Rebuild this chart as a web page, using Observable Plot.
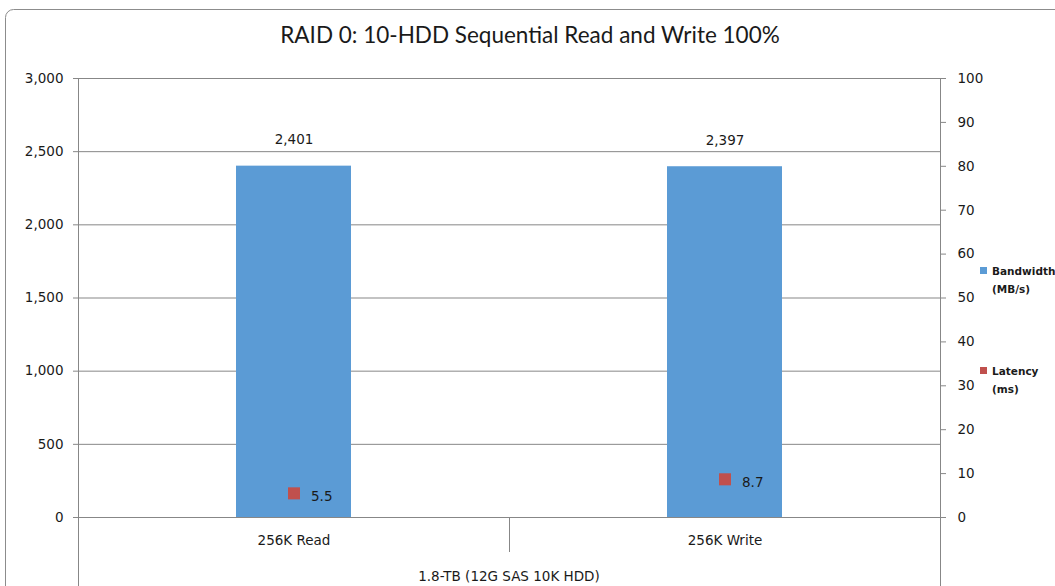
<!DOCTYPE html>
<html>
<head>
<meta charset="utf-8">
<script src="https://cdn.jsdelivr.net/npm/d3@7"></script>
<script src="https://cdn.jsdelivr.net/npm/@observablehq/plot@0.6"></script>
<style>
  html, body { margin: 0; padding: 0; background: #fff; }
  #chart svg { display: block; }
</style>
</head>
<body>
<div id="chart"></div>
<script>
const title = "RAID 0: 10-HDD Sequential Read and Write 100%";
const groupLabel = "1.8-TB (12G SAS 10K HDD)";
const categories = ["256K Read", "256K Write"];
const bandwidth = [2401, 2397];
const latency = [5.5, 8.7];
const leftTicks = [0, 500, 1000, 1500, 2000, 2500, 3000];
const rightTicks = [0, 10, 20, 30, 40, 50, 60, 70, 80, 90, 100];
const seriesNames = [["Bandwidth", "(MB/s)"], ["Latency", "(ms)"]];
const seriesColors = ["#5B9BD5", "#C0504D"];

const ratio = 3000 / 100; // secondary axis maps 0..100 onto 0..3000
const rows = categories.map((c, i) => ({cat: c, bw: bandwidth[i], lat: latency[i], latY: latency[i] * ratio}));

const W = 1055, H = 586;
const mL = 78, mR = 115, mT = 78, mB = 69;
const font = "'DejaVu Sans', Verdana, sans-serif";
const fmt = d3.format(",");

const plot = Plot.plot({
  width: W, height: H,
  marginLeft: mL, marginRight: mR, marginTop: mT, marginBottom: mB,
  style: {fontFamily: font, fontSize: "13px", background: "transparent", color: "#1a1a1a"},
  x: {domain: categories, paddingInner: 0.733, paddingOuter: 0.3665, label: null},
  y: {domain: [0, 3000], label: null},
  marks: [
    Plot.ruleY(leftTicks, {stroke: "#878787", strokeWidth: 1}),
    Plot.barY(rows, {x: "cat", y: "bw", fill: seriesColors[0]}),
    Plot.text(rows, {x: "cat", y: "bw", text: d => fmt(d.bw), dy: -26, fontSize: 13.5, fill: "#1a1a1a"}),
    Plot.dot(rows, {x: "cat", y: "latY", symbol: "square", r: 6.8, fill: seriesColors[1], stroke: "none"}),
    Plot.text(rows, {x: "cat", y: "latY", text: d => String(d.lat), dx: 17, dy: 3, textAnchor: "start", fontSize: 13.5, fill: "#1a1a1a"}),
    Plot.axisY(leftTicks, {anchor: "left", tickSize: 5, tickPadding: 10, tickFormat: d => fmt(d), stroke: "#878787", fill: "#1a1a1a", fontSize: 13.5, label: null}),
    Plot.axisY(rightTicks.map(t => t * ratio), {anchor: "right", tickSize: 5, tickPadding: 12, tickFormat: d => d3.format("d")(d / ratio), stroke: "#878787", fill: "#1a1a1a", fontSize: 13.5, label: null}),
    Plot.axisX({tickSize: 0, tickPadding: 18, fontSize: 13.5, fill: "#1a1a1a", label: null})
  ]
});

document.getElementById("chart").appendChild(plot);

const svg = d3.select(plot);
const xs = plot.scale("x");
const x0 = mL, x1 = W - mR, yBase = H - mB;
const centers = categories.map(c => xs.apply(c) + xs.bandwidth / 2);
const divider = (centers[0] + centers[1]) / 2;

// outer chart-area border
svg.insert("rect", ":first-child")
  .attr("x", 5.5).attr("y", 9.5).attr("width", 1200).attr("height", 800)
  .attr("rx", 8).attr("fill", "#fff").attr("stroke", "#8c8c8c").attr("stroke-width", 1);

const g = svg.append("g").attr("stroke", "#878787").attr("stroke-width", 1);
// vertical axis lines extending into category area
g.append("line").attr("x1", x0 + 0.5).attr("x2", x0 + 0.5).attr("y1", mT).attr("y2", H);
g.append("line").attr("x1", x1 + 0.5).attr("x2", x1 + 0.5).attr("y1", mT).attr("y2", H);
// category divider
g.append("line").attr("x1", Math.round(divider) + 0.5).attr("x2", Math.round(divider) + 0.5).attr("y1", yBase).attr("y2", yBase + 35);

// title
svg.append("text").attr("x", 530).attr("y", 43).attr("text-anchor", "middle")
  .attr("font-family", "Lato, 'Open Sans', sans-serif").attr("font-size", 22.5).attr("fill", "#1a1a1a")
  .text(title);

// group label
svg.append("text").attr("x", (x0 + x1) / 2).attr("y", 581).attr("text-anchor", "middle")
  .attr("font-family", font).attr("font-size", 13.5).attr("fill", "#1a1a1a")
  .text(groupLabel);

// legend
const legY = [271, 371];
seriesNames.forEach((lines, i) => {
  svg.append("rect").attr("x", 980).attr("y", legY[i] - 4).attr("width", 7).attr("height", 7).attr("fill", seriesColors[i]);
  const t = svg.append("text").attr("x", 992).attr("y", legY[i] + 4).attr("text-anchor", "start")
    .attr("font-family", font).attr("font-size", 10.5).attr("font-weight", "bold").attr("fill", "#1a1a1a");
  lines.forEach((ln, j) => t.append("tspan").attr("x", 992).attr("dy", j === 0 ? 0 : 18).text(ln));
});
</script>
</body>
</html>
